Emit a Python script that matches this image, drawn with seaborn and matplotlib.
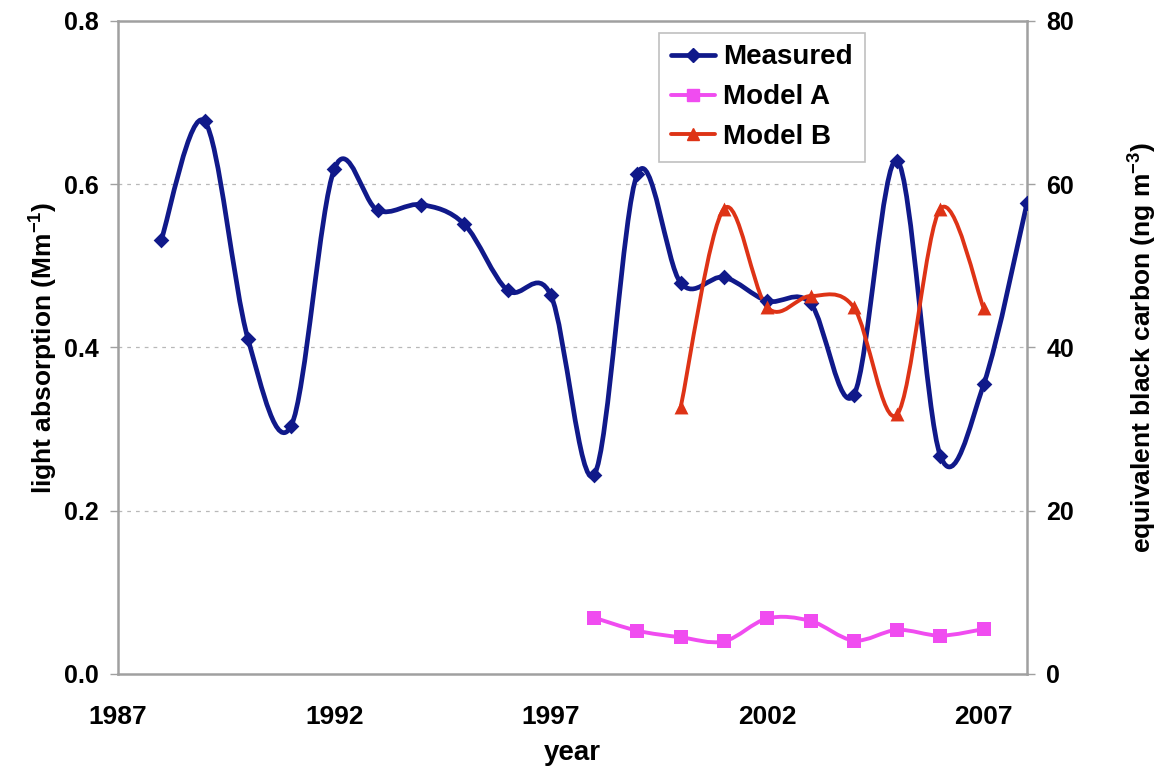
import numpy as np
import pandas as pd
import matplotlib
matplotlib.use("Agg")
import matplotlib.pyplot as plt
from matplotlib.path import Path
from matplotlib.patches import PathPatch
from matplotlib.lines import Line2D
import seaborn as sns

# ---------------- data ----------------
years_measured = [1988, 1989, 1990, 1991, 1992, 1993, 1994, 1995, 1996, 1997,
                  1998, 1999, 2000, 2001, 2002, 2003, 2004, 2005, 2006, 2007, 2008]
measured = [0.532, 0.677, 0.411, 0.304, 0.619, 0.568, 0.575, 0.551, 0.470, 0.464,
            0.244, 0.613, 0.479, 0.486, 0.457, 0.454, 0.342, 0.629, 0.267, 0.355, 0.577]

years_model_a = [1998, 1999, 2000, 2001, 2002, 2003, 2004, 2005, 2006, 2007]
model_a = [0.069, 0.053, 0.045, 0.040, 0.068, 0.065, 0.041, 0.054, 0.047, 0.055]

years_model_b = [2000, 2001, 2002, 2003, 2004, 2005, 2006, 2007]
model_b = [0.327, 0.570, 0.449, 0.463, 0.449, 0.318, 0.570, 0.448]

x_ticks = [1987, 1992, 1997, 2002, 2007]
left_ticks = [0.0, 0.2, 0.4, 0.6, 0.8]
right_ticks = [0, 20, 40, 60, 80]

C_MEAS = "#10198a"
C_A = "#f04cf0"
C_B = "#de3316"

# ---------------- style ----------------
sns.set_style("white")
plt.rcParams["font.family"] = ["Liberation Sans", "DejaVu Sans"]
plt.rcParams["font.weight"] = "bold"
plt.rcParams["axes.labelweight"] = "bold"
plt.rcParams["mathtext.default"] = "regular"
plt.rcParams["text.color"] = "black"
plt.rcParams["axes.labelcolor"] = "black"
plt.rcParams["xtick.labelcolor"] = "black"
plt.rcParams["ytick.labelcolor"] = "black"

fig = plt.figure(figsize=(11.66, 7.68), dpi=100)
ax = fig.add_axes([0.1012, 0.1224, 0.7796, 0.8503])


def smooth_path(xs, ys):
    """Excel-style smoothed line: cubic Bezier segments through the data points."""
    xs = np.asarray(xs, float)
    ys = np.asarray(ys, float)
    n = len(xs)
    verts = [(xs[0], ys[0])]
    codes = [Path.MOVETO]
    for i in range(n - 1):
        i0 = max(i - 1, 0)
        i3 = min(i + 2, n - 1)
        c1 = (xs[i] + (xs[i + 1] - xs[i0]) / 6.0, ys[i] + (ys[i + 1] - ys[i0]) / 6.0)
        c2 = (xs[i + 1] - (xs[i3] - xs[i]) / 6.0, ys[i + 1] - (ys[i3] - ys[i]) / 6.0)
        verts += [c1, c2, (xs[i + 1], ys[i + 1])]
        codes += [Path.CURVE4] * 3
    return Path(verts, codes)


series = [
    ("Measured", years_measured, measured, C_MEAS, "D", 8, 3.4),
    ("Model A", years_model_a, model_a, C_A, "s", 10, 2.8),
    ("Model B", years_model_b, model_b, C_B, "^", 10, 2.8),
]

handles = []
for name, xs, ys, col, mk, ms, lw in series:
    ax.add_patch(PathPatch(smooth_path(xs, ys), facecolor="none", edgecolor=col,
                           lw=lw, zorder=3, capstyle="round", joinstyle="round"))
    df = pd.DataFrame({"year": xs, "value": ys})
    sns.scatterplot(data=df, x="year", y="value", ax=ax, color=col, marker=mk,
                    s=ms ** 2, edgecolor=col, linewidth=0, zorder=4, legend=False)
    handles.append(Line2D([0], [0], color=col, lw=lw, marker=mk, markersize=ms * 0.9,
                          markeredgecolor=col, label=name))

ax.set_xlim(1987, 2008)
ax.set_ylim(0, 0.8)
ax.set_xticks(x_ticks)
ax.set_xticklabels([str(t) for t in x_ticks])
ax.set_yticks(left_ticks)
ax.set_yticklabels([f"{t:.1f}" for t in left_ticks])

for y in left_ticks[1:-1]:
    ax.axhline(y, color="#b8b8b8", lw=0.9, ls=(0, (3, 4)), zorder=1)

spine_col = "#a0a0a0"
for s in ax.spines.values():
    s.set_color(spine_col)
    s.set_linewidth(1.8)

ax.tick_params(axis="x", direction="out", length=6, width=1, color=spine_col,
               labelsize=19, pad=16)
ax.tick_params(axis="y", direction="out", length=6, width=1, color=spine_col,
               labelsize=18, pad=8, left=True)
for lab in ax.get_xticklabels() + ax.get_yticklabels():
    lab.set_fontweight("bold")

ax.set_xlabel("year", fontsize=20, fontweight="bold", labelpad=8)
ax.set_ylabel("light absorption (Mm$^{-1}$)", fontsize=19, fontweight="bold", labelpad=3)

ax2 = ax.twinx()
ax2.set_ylim(0, 80)
ax2.set_yticks(right_ticks)
ax2.set_yticklabels([str(t) for t in right_ticks])
for s in ax2.spines.values():
    s.set_visible(False)
ax2.tick_params(axis="y", direction="out", length=6, width=1, color=spine_col,
                labelsize=18, pad=8, right=True)
for lab in ax2.get_yticklabels():
    lab.set_fontweight("bold")
ax2.set_ylabel("equivalent black carbon (ng m$^{-3}$)", fontsize=19,
               fontweight="bold", labelpad=38)

leg = ax.legend(handles=handles, loc="upper left", bbox_to_anchor=(0.595, 0.982),
                fontsize=20, frameon=True, fancybox=False, handlelength=1.6,
                handletextpad=0.3, borderpad=0.42, labelspacing=0.5, borderaxespad=0)
leg.get_frame().set_edgecolor("#b0b0b0")
leg.get_frame().set_linewidth(1.2)
for t in leg.get_texts():
    t.set_fontweight("bold")

fig.savefig("out.png", dpi=100)
